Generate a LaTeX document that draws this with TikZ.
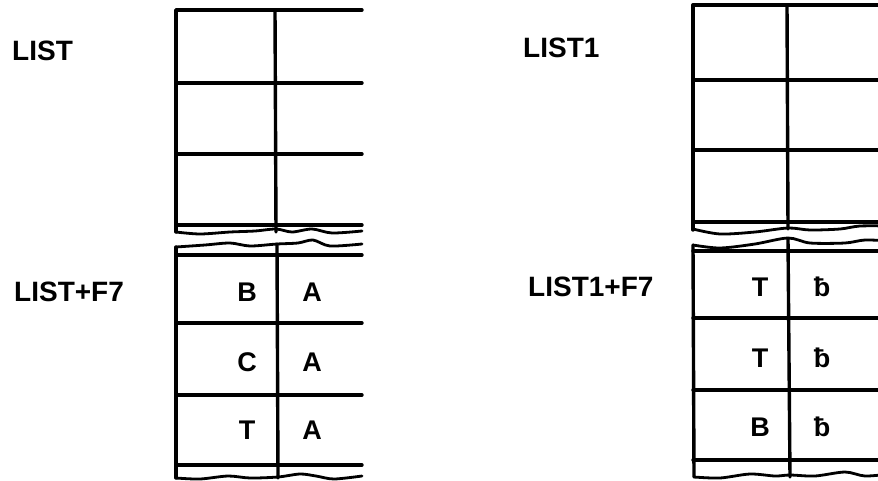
\documentclass[tikz,border=0pt]{standalone}
\usepackage{fontspec}
\setmainfont{Liberation Sans}
\begin{document}
\begin{tikzpicture}[x=1pt,y=-1pt,line join=round,line cap=round,
  gridline/.style={line width=3.4pt},
  wave/.style={line width=2.8pt},
  lbl/.style={font=\fontsize{28}{30}\selectfont\bfseries,anchor=west,inner sep=0pt},
  cell/.style={font=\fontsize{27}{30}\selectfont\bfseries,inner sep=0pt}]
\useasboundingbox (0,0) rectangle (878,480);
\begin{scope}
\clip (0,0) rectangle (878,480);
% ---------- left grid, upper block ----------
\draw[gridline] (176,232) -- (176,10) -- (362,10);
\draw[gridline] (176,83) -- (362,83);
\draw[gridline] (176,154) -- (362,154);
\draw[gridline] (176,225) -- (362,225);
\draw[gridline] (275,10) -- (276,232);
\draw[wave] plot[smooth] coordinates {(176,232) (200,234) (230,232) (255,231) (276,229) (292,232) (312,229) (332,233) (362,231)};
% ---------- left grid, lower block ----------
\draw[wave] plot[smooth] coordinates {(176,247) (205,245) (230,243) (250,246) (277,244) (298,243) (313,240) (330,246) (362,244)};
\draw[gridline] (176,247) -- (176,478);
\draw[gridline] (277,244) -- (278,478);
\draw[gridline] (176,255) -- (362,255);
\draw[gridline] (176,323) -- (362,323);
\draw[gridline] (176,395) -- (362,395);
\draw[gridline] (176,465) -- (362,465);
\draw[wave] plot[smooth] coordinates {(176,478) (200,479) (228,476) (250,478) (278,477) (300,474) (316,476) (334,479) (362,476)};
% ---------- right grid, upper block ----------
\draw[gridline] (693,230) -- (693,5) -- (890,5);
\draw[gridline] (693,80) -- (890,80);
\draw[gridline] (693,150) -- (890,150);
\draw[gridline] (693,222) -- (890,222);
\draw[gridline] (787,5) -- (788,229);
\draw[wave] plot[smooth] coordinates {(693,229) (720,234) (755,232) (788,228) (810,230) (840,229) (860,226) (890,226)};
% ---------- right grid, lower block ----------
\draw[wave] plot[smooth] coordinates {(693,245) (720,248) (755,244) (788,238) (810,243) (845,243) (865,240) (890,241)};
\draw[gridline] (693,245) -- (694,477);
\draw[gridline] (788,239) -- (790,477);
\draw[gridline] (693,251) -- (890,251);
\draw[gridline] (693,318) -- (890,318);
\draw[gridline] (693,390) -- (890,390);
\draw[gridline] (693,460) -- (890,460);
\draw[wave] plot[smooth] coordinates {(694,477) (720,478) (750,474) (775,476) (790,475) (815,476) (845,472) (865,476) (890,474)};
\end{scope}
% ---------- labels ----------
\node[lbl] (list) at (12,51) {LIST};
\node[lbl] (listf) at (14,292) {LIST+F7};
\node[lbl] (listone) at (523,48) {LIST1};
\node[lbl] (listonef) at (528,287) {LIST1+F7};
% ---------- cell contents, left ----------
\node[cell] (lb) at (247,292) {B};
\node[cell] (la1) at (312,292) {A};
\node[cell] (lc) at (247,362) {C};
\node[cell] (la2) at (312,362) {A};
\node[cell] (lt) at (247,430) {T};
\node[cell] (la3) at (312,430) {A};
% ---------- cell contents, right ----------
\node[cell] (rt1) at (760,287) {T};
\node[cell] (rb1) at (822,287) {ƀ};
\node[cell] (rt2) at (760,358) {T};
\node[cell] (rb2) at (822,358) {ƀ};
\node[cell] (rb) at (760,427) {B};
\node[cell] (rb3) at (822,427) {ƀ};
\end{tikzpicture}
\end{document}
